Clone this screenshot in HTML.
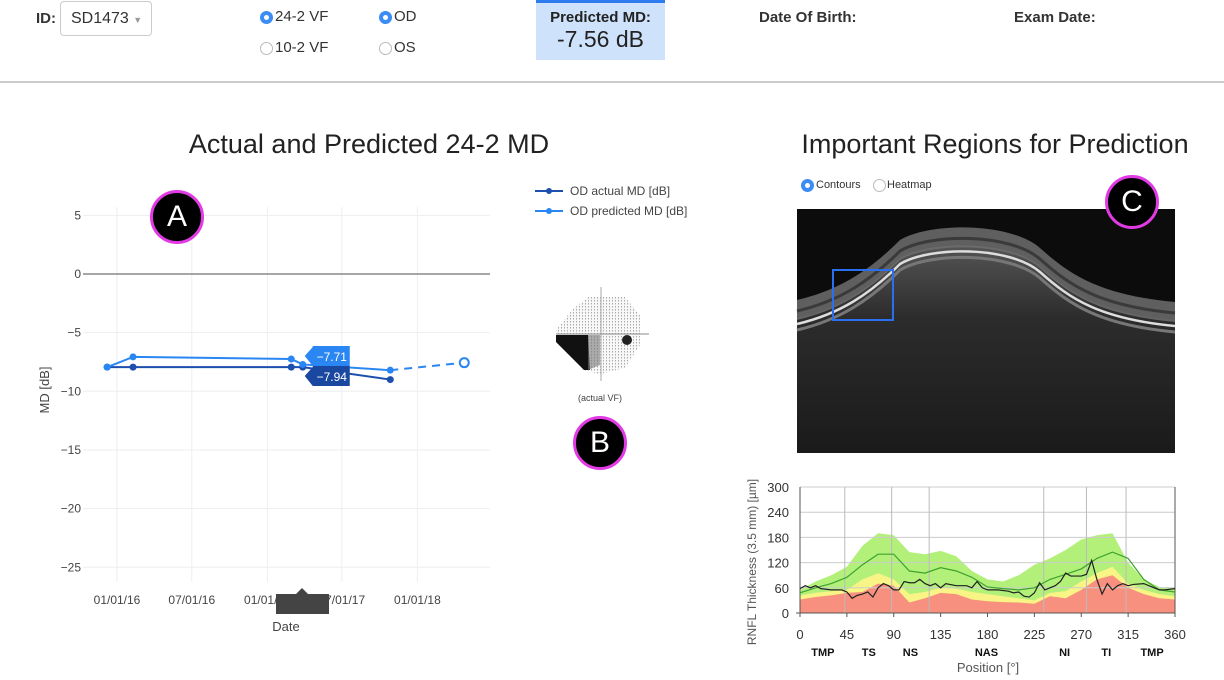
<!DOCTYPE html>
<html><head><meta charset="utf-8"><style>
body{margin:0;width:1224px;height:680px;overflow:hidden;background:#fff;font-family:"Liberation Sans",sans-serif;position:relative}
.a{position:absolute}
.radio{position:absolute;width:13px;height:13px;border-radius:50%;border:1px solid #bbb;box-sizing:border-box;background:#fff}
.radio.on{border:4px solid #3b8cf5}
.badge{position:absolute;width:48px;height:48px;border-radius:50%;background:#000;border:3px solid #e23be6;color:#fff;font-size:30px;text-align:center;line-height:48px}
</style></head><body>
<div class="a" style="left:36px;top:10px;font-size:15px;font-weight:bold;color:#333">ID:</div>
<div class="a" style="left:60px;top:1px;width:92px;height:35px;border:1px solid #ccc;border-radius:4px;box-sizing:border-box;font-size:16px;color:#333;line-height:33px;padding-left:10px">SD1473 <span style="font-size:9px;color:#999">▼</span></div>
<div class="radio on" style="left:260px;top:11px"></div>
<div class="a" style="left:275px;top:8px;font-size:15px;color:#333">24-2 VF</div>
<div class="radio" style="left:260px;top:42px"></div>
<div class="a" style="left:275px;top:39px;font-size:15px;color:#333">10-2 VF</div>
<div class="radio on" style="left:379px;top:11px"></div>
<div class="a" style="left:394px;top:8px;font-size:15px;color:#333">OD</div>
<div class="radio" style="left:379px;top:42px"></div>
<div class="a" style="left:394px;top:39px;font-size:15px;color:#333">OS</div>
<div class="a" style="left:536px;top:0;width:129px;height:60px;background:#cfe2fb;border-top:3px solid #2f7bf0;box-sizing:border-box;text-align:center;color:#222">
<div style="font-size:15px;font-weight:bold;margin-top:6px">Predicted MD:</div><div style="font-size:23px;margin-top:0px">-7.56 dB</div></div>
<div class="a" style="left:759px;top:9px;font-size:15px;font-weight:bold;color:#333">Date Of Birth:</div>
<div class="a" style="left:1014px;top:9px;font-size:15px;font-weight:bold;color:#333">Exam Date:</div>
<div class="a" style="left:0;top:81px;width:1224px;height:2px;background:#ccc"></div>

<div class="a" style="left:119px;top:129px;width:500px;text-align:center;font-size:27px;color:#222">Actual and Predicted 24-2 MD</div>
<div class="a" style="left:745px;top:129px;width:500px;text-align:center;font-size:27px;color:#222">Important Regions for Prediction</div>

<svg class="a" style="left:0;top:0" width="1224" height="680" id="svg"></svg>

<div class="badge a" style="left:150px;top:190px">A</div>
<div class="badge a" style="left:573px;top:416px">B</div>
<div class="badge a" style="left:1105px;top:175px">C</div>

<div class="radio on" style="left:801px;top:179px;border-width:4px"></div>
<div class="a" style="left:816px;top:179px;font-size:11px;color:#333">Contours</div>
<div class="radio" style="left:873px;top:179px"></div>
<div class="a" style="left:887px;top:179px;font-size:11px;color:#333">Heatmap</div>

<script>
const NS='http://www.w3.org/2000/svg';
const svg=document.getElementById('svg');
function mk(tag,attrs,parent,txt){const e=document.createElementNS(NS,tag);for(const k in attrs)e.setAttribute(k,attrs[k]);if(txt!==undefined)e.textContent=txt;(parent||svg).appendChild(e);return e;}

// ---- MD chart data ----
const mdYTicks=[5,0,-5,-10,-15,-20,-25];
const mdXTickDates=['2016-01-01','2016-07-01','2017-01-01','2017-07-01','2018-01-01'];
const mdXTickLabels=['01/01/16','07/01/16','01/01/17','07/01/17','01/01/18'];
const actualDates=['2015-12-08','2016-02-09','2017-02-28','2017-03-28','2017-10-27'];
const actualMD=[-7.94,-7.94,-7.94,-7.94,-9.0];
const predDates=['2015-12-08','2016-02-09','2017-02-28','2017-03-28','2017-10-27'];
const predMD=[-7.94,-7.07,-7.25,-7.71,-8.2];
const futureDate='2018-04-25';
const futureMD=-7.56;

const day0=Date.parse('2016-01-01');
const mx=d=>117+(Date.parse(d)-day0)/86400000*150/365;
const my=v=>274-v*11.73;

const g=mk('g',{});
mdXTickDates.forEach((d,i)=>{
  const l=mk('line',{x1:mx(d),x2:mx(d),y1:207,y2:582,stroke:'#eee','stroke-width':1},g);
  
  const t=mk('text',{x:mx(d),y:604,'text-anchor':'middle','font-size':12,fill:'#444'},g,mdXTickLabels[i]);
  
});
mdYTicks.forEach(v=>{
  const l=mk('line',{x1:83,x2:490,y1:my(v),y2:my(v),stroke:v===0?'#888':'#eee','stroke-width':v===0?1.5:1},g);
  
  const t=mk('text',{x:81,y:my(v)+4,'text-anchor':'end','font-size':12,fill:'#444'},g,(v<0?'\u2212'+(-v):v));
  
});
let yt=mk('text',{x:49,y:390,'text-anchor':'middle','font-size':13,fill:'#444',transform:'rotate(-90 49 390)'},g,'MD [dB]');

let xt=mk('text',{x:286,y:631,'text-anchor':'middle','font-size':13,fill:'#444'},g,'Date');


function series(dates,vals,color,name){
  const p=mk('polyline',{points:dates.map((d,i)=>mx(d)+','+my(vals[i])).join(' '),fill:'none',stroke:color,'stroke-width':2},g);
  
  dates.forEach((d,i)=>{const c=mk('circle',{cx:mx(d),cy:my(vals[i]),r:3.5,fill:color},g);
    });
}
series(actualDates,actualMD,'#1d4fae','actual-md');
series(predDates,predMD,'#2a86f2','predicted-md');
const last=predDates.length-1;
let dl=mk('line',{x1:mx(predDates[last]),y1:my(predMD[last]),x2:mx(futureDate),y2:my(futureMD),stroke:'#2a86f2','stroke-width':2,'stroke-dasharray':'8,6'},g);

let fc=mk('circle',{cx:mx(futureDate),cy:my(futureMD),r:4.5,fill:'#fff',stroke:'#2a86f2','stroke-width':2},g);


function tip(x,y,color,txt,name){
  const gg=mk('g',{},g);
  mk('path',{d:`M${x} ${y} L${x+8} ${y-9} L${x+8} ${y-10} L${x+45} ${y-10} L${x+45} ${y+10} L${x+8} ${y+10} Z`,fill:color},gg);
  mk('text',{x:x+27,y:y+5,'text-anchor':'middle','font-size':12,fill:'#fff'},gg,txt);
}
tip(mx(predDates[3])+2,356,'#2a86f2','\u22127.71','hover-label-predicted');
tip(mx(actualDates[3])+2,376,'#1a47a0','\u22127.94','hover-label-actual');
let hb=mk('rect',{x:276,y:594,width:53,height:20,fill:'#444'},g);
mk('path',{d:'M296 594 L302 588 L308 594 Z',fill:'#444'},g);

[['OD actual MD [dB]','#1d4fae',191],['OD predicted MD [dB]','#2a86f2',211]].forEach(([t,c,y])=>{
  const lg=mk('g',{});
  mk('line',{x1:535,x2:563,y1:y,y2:y,stroke:c,'stroke-width':2},lg);
  mk('circle',{cx:549,cy:y,r:3,fill:c},lg);
  mk('text',{x:570,y:y+4,'font-size':12,fill:'#444'},lg,t);
});

// VF image
const vf=mk('g',{});
mk('defs',{},vf).innerHTML='<pattern id="dots" width="3" height="3" patternUnits="userSpaceOnUse"><rect width="3" height="3" fill="#f8f8f8"/><rect width="1" height="1.5" fill="#aaa"/></pattern>';
mk('path',{d:'M588 297 L625 297 L640 315 L640 345 L625 368 L600 374 L583 370 L556 337 L556 330 L572 310 Z',fill:'url(#dots)'},vf);
mk('path',{d:'M556 335 L588 335 L590 370 L584 370 L556 342 Z',fill:'#111'},vf);
mk('path',{d:'M588 335 L600 335 L600 365 L588 370 Z',fill:'#777',opacity:.6},vf);
mk('ellipse',{cx:627,cy:340,rx:5,ry:5,fill:'#222'},vf);
mk('line',{x1:601,x2:601,y1:287,y2:381,stroke:'#aaa','stroke-width':1},vf);
mk('line',{x1:556,x2:649,y1:334,y2:334,stroke:'#888','stroke-width':1},vf);
let vt=mk('text',{x:600,y:401,'text-anchor':'middle','font-size':9,fill:'#444'},vf,'(actual VF)');


// OCT image
const oct=mk('g',{});
mk('defs',{},oct).innerHTML='<linearGradient id="deep" x1="0" y1="0" x2="0" y2="1"><stop offset="0" stop-color="#555"/><stop offset="0.35" stop-color="#2c2c2c"/><stop offset="1" stop-color="#1a1a1a"/></linearGradient>';
mk('rect',{x:797,y:209,width:378,height:244,fill:'#0c0c0c'},oct);
const curve=o=>`M797 ${300+o} C 840 ${290+o}, 870 ${270+o}, 900 ${240+o} C 930 ${222+o}, 1010 ${222+o}, 1040 ${248+o} C 1070 ${275+o}, 1100 ${295+o}, 1175 ${302+o}`;
mk('path',{d:curve(18)+' L1175 453 L797 453 Z',fill:'url(#deep)'},oct);
mk('path',{d:curve(0)+' L1175 322 C 1100 315, 1070 295, 1040 268 C 1010 242, 930 242, 900 260 C 870 290, 840 310, 797 320 Z',fill:'#6e6e6e',opacity:.85},oct);
mk('path',{d:curve(11),fill:'none',stroke:'#3a3a3a','stroke-width':3},oct);
mk('path',{d:curve(24),fill:'none',stroke:'#ddd','stroke-width':2.5},oct);
mk('path',{d:curve(30),fill:'none',stroke:'#777','stroke-width':3},oct);
let br=mk('rect',{x:833,y:270,width:60,height:50,fill:'none',stroke:'#2a6ff0','stroke-width':2},oct);


// ---- RNFL chart data ----
const rnflYTicks=[0,60,120,180,240,300];
const rnflXTicks=[0,45,90,135,180,225,270,315,360];
const sectorGrid=[43,88,124,234,275,313];
const sectorNames=['TMP','TS','NS','NAS','NI','TI','TMP'];
const sectorPos=[22,66,106,179,254,294,338];
const bandDeg=[0,15,30,45,60,75,90,105,120,135,150,165,180,195,210,225,240,255,270,285,300,315,330,345,360];
const redTop=[32,38,42,48,50,70,65,25,35,48,45,32,28,26,25,22,40,35,55,80,90,60,45,35,32];
const yellowTop=[42,48,52,55,80,95,80,45,50,60,58,50,45,40,35,30,48,52,75,95,110,70,55,45,40];
const greenTop=[55,75,90,110,160,190,185,145,140,148,135,100,80,75,90,115,130,150,175,185,190,120,80,62,60];
const normalMean=[48,60,70,85,115,140,140,100,95,108,100,85,62,58,55,60,80,92,105,130,145,130,80,55,50];
const measDeg=[0,5,10,15,20,30,40,45,50,55,60,65,70,75,80,85,90,95,100,105,110,115,120,125,130,135,140,150,160,165,170,175,180,190,200,205,210,215,220,225,230,235,240,245,250,255,260,270,275,280,285,290,295,300,305,310,315,320,330,340,345,350,360];
const measured=[58,65,60,65,58,55,55,50,35,42,45,50,38,60,70,65,55,55,75,72,72,80,70,65,70,60,70,65,65,60,75,60,55,55,52,48,50,40,38,48,72,55,60,65,75,95,88,88,92,125,80,45,70,55,65,70,65,68,70,60,55,55,58];

const rx=d=>800+d*375/360;
const ry=v=>613-v*0.42;
const rg=mk('g',{});
function band(top,color,name){
  let d='M'+bandDeg.map((x,i)=>rx(x)+' '+ry(top[i])).join(' L');
  d+=' L'+rx(360)+' '+ry(0)+' L'+rx(0)+' '+ry(0);
  const p=mk('path',{d:d+' Z',fill:color},rg);
}
band(greenTop,'#b3f07a','normal-band-green');
band(yellowTop,'#f8f486','borderline-band-yellow');
band(redTop,'#f7907e','abnormal-band-red');
rnflYTicks.forEach(v=>{
  const l=mk('line',{x1:800,x2:1175,y1:ry(v),y2:ry(v),stroke:'#ccc','stroke-width':1},rg);
  
  const t=mk('text',{x:789,y:ry(v)+5,'text-anchor':'end','font-size':13,fill:'#333'},rg,v);
  
});
sectorGrid.forEach(d=>{const l=mk('line',{x1:rx(d),x2:rx(d),y1:487,y2:613,stroke:'#bbb','stroke-width':1},rg);
  });
mk('line',{x1:800,x2:800,y1:487,y2:616,stroke:'#555'},rg);
mk('line',{x1:1175,x2:1175,y1:487,y2:616,stroke:'#555'},rg);
mk('line',{x1:796,x2:1175,y1:613,y2:613,stroke:'#555'},rg);
rnflXTicks.forEach(d=>{
  mk('line',{x1:rx(d),x2:rx(d),y1:613,y2:617,stroke:'#555'},rg);
  const t=mk('text',{x:rx(d),y:639,'text-anchor':'middle','font-size':13,fill:'#333'},rg,d);
  
});
sectorNames.forEach((s,i)=>{const t=mk('text',{x:rx(sectorPos[i]),y:656,'text-anchor':'middle','font-size':11,'font-weight':'bold',fill:'#111'},rg,s);
  });
let px=mk('text',{x:988,y:672,'text-anchor':'middle','font-size':13,fill:'#555'},rg,'Position [°]');

let py=mk('text',{x:756,y:562,'text-anchor':'middle','font-size':12,fill:'#555',transform:'rotate(-90 756 562)'},rg,'RNFL Thickness (3.5 mm) [µm]');

let nm=mk('polyline',{points:bandDeg.map((d,i)=>rx(d)+','+ry(normalMean[i])).join(' '),fill:'none',stroke:'#3da32e','stroke-width':1.2},rg);

let ms=mk('polyline',{points:measDeg.map((d,i)=>rx(d)+','+ry(measured[i])).join(' '),fill:'none',stroke:'#222','stroke-width':1.2},rg);

</script>
</body></html>
